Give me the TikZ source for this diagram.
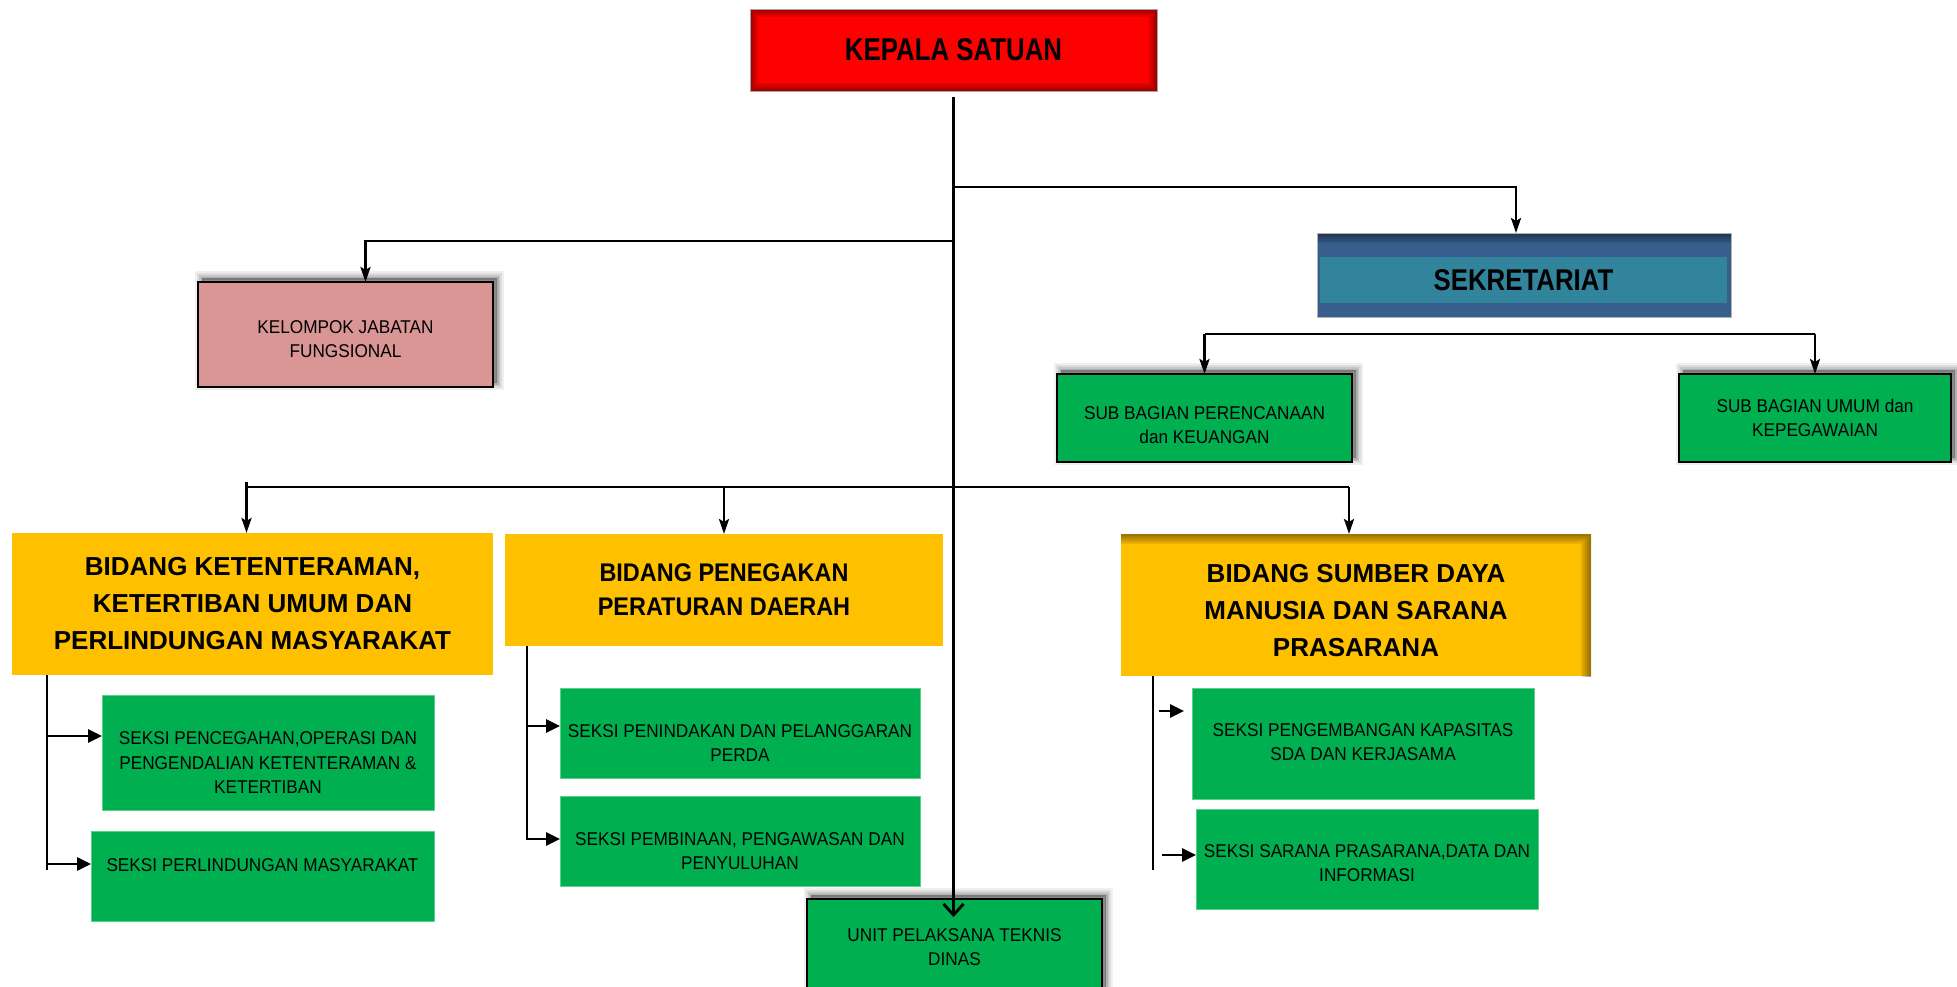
\documentclass[tikz,border=0pt]{standalone}
\usepackage{fontspec}
\setmainfont{Liberation Sans}
\newfontfamily\smallf[FakeStretch=0.93]{Liberation Sans}
\newfontfamily\kepf[FakeStretch=0.82]{Liberation Sans}
\newfontfamily\sekf[FakeStretch=0.86]{Liberation Sans}
\newfontfamily\bbf[FakeStretch=0.92]{Liberation Sans}
\usetikzlibrary{arrows.meta,shadows}
\definecolor{grn}{HTML}{00B050}
\definecolor{grnb}{HTML}{5AD08A}
\definecolor{yel}{HTML}{FFC000}
\definecolor{pinkbox}{HTML}{D99694}
\definecolor{kred}{HTML}{FF0000}
\definecolor{sekblue}{HTML}{385E8E}
\definecolor{sekteal}{HTML}{31849B}
\tikzset{
  conn/.style={line width=2.8pt, draw=black},
  darr/.style={conn, -{Stealth[length=15pt,width=10pt,inset=3pt]}},
  sarr/.style={conn, -{Triangle[length=14pt,width=13pt]}},
  uarr/.style={conn, -{Straight Barb[length=11pt,width=20pt]}},
  box/.style={rectangle, inner sep=0pt, outer sep=0pt, align=center},
  stext/.style={align=center, inner sep=0pt, font=\smallf\fontsize{18.5}{24.5}\selectfont},
  btext/.style={align=center, inner sep=0pt, font=\bfseries\fontsize{26}{37}\selectfont},
  shadowed/.style={
    general shadow={shadow xshift=4pt, shadow yshift=4pt, fill=black, fill opacity=0.3, draw=none},
    general shadow={shadow xshift=4pt, shadow yshift=4pt, fill=none, draw=black, draw opacity=0.1, line width=3pt},
    general shadow={shadow xshift=4pt, shadow yshift=4pt, fill=none, draw=black, draw opacity=0.1, line width=6pt},
    general shadow={shadow xshift=4pt, shadow yshift=4pt, fill=none, draw=black, draw opacity=0.08, line width=10pt},
    general shadow={shadow xshift=4pt, shadow yshift=4pt, fill=none, draw=black, draw opacity=0.06, line width=14pt}},
  seksi/.style={box, stext, fill=grn, draw=grnb, line width=0.8pt},
  subbox/.style={box, stext, fill=grn, draw=black, line width=2pt, shadowed},
  ybox/.style={box, btext, fill=yel},
  glow/.style={path picture={\foreach \w in {4,8,12,16}{\draw[draw=black, draw opacity=#1, line width=\w pt] (path picture bounding box.north west) rectangle (path picture bounding box.south east);}}},
  topglow/.style={path picture={\foreach \w in {4,8,12,16,20}{\draw[draw=black, draw opacity=#1, line width=\w pt] ([xshift=-30pt]path picture bounding box.north west) -- ([xshift=30pt]path picture bounding box.north east);}}},
  edgeglow/.style={path picture={\foreach \w in {4,8,12,16,20}{\draw[draw=black, draw opacity=#1, line width=\w pt] ([xshift=-30pt]path picture bounding box.north west) -- (path picture bounding box.north east) -- ([yshift=-30pt]path picture bounding box.south east);}}},
}
\begin{document}
\begin{tikzpicture}[x=1pt,y=-1pt]
\useasboundingbox (0,0) rectangle (1957,986);
\fill[white] (0,0) rectangle (1957,986);

% top
\node[box, fill=kred, draw=gray!70, line width=0.8pt, glow=0.1, minimum width=407pt, minimum height=82pt, font=\kepf\bfseries\fontsize{31.5}{36}\selectfont] (kepala) at (953.5,50) {KEPALA SATUAN};

\node[box, fill=sekblue, topglow=0.1, draw=gray!60, line width=0.6pt, minimum width=414pt, minimum height=84pt] (sek) at (1524,275) {};
\node[box, fill=sekteal, minimum width=407pt, minimum height=46pt, font=\sekf\bfseries\fontsize{30}{34}\selectfont] (sekband) at (1523.5,280) {SEKRETARIAT};

\node[box, fill=pinkbox, draw=black, line width=2pt, shadowed, minimum width=295pt, minimum height=105pt] (kjf) at (345.5,334.5) {};
\node[stext] (kjft) at (345.5,339) {KELOMPOK JABATAN\\FUNGSIONAL};

\node[subbox, minimum width=295pt, minimum height=88pt] (sbp) at (1204.5,418) {};
\node[stext] (sbpt) at (1204.5,425) {SUB BAGIAN PERENCANAAN\\dan KEUANGAN};
\node[subbox, minimum width=272pt, minimum height=88pt] (sbu) at (1815,418) {SUB BAGIAN UMUM dan\\KEPEGAWAIAN};

% bidang
\node[ybox, minimum width=481pt, minimum height=142pt] (b1) at (252.5,604) {BIDANG KETENTERAMAN,\\KETERTIBAN UMUM DAN\\PERLINDUNGAN MASYARAKAT};
\node[ybox, minimum width=438pt, minimum height=112pt, font=\bbf\bfseries\fontsize{25.5}{34}\selectfont] (b2) at (724,590) {BIDANG PENEGAKAN\\PERATURAN DAERAH};
\node[box, fill=yel, edgeglow=0.09, minimum width=470pt, minimum height=142pt] (b3) at (1356,605) {};
\node[btext] (b3t) at (1356,611) {BIDANG SUMBER DAYA\\MANUSIA DAN SARANA\\PRASARANA};

% seksi
\node[seksi, minimum width=332pt, minimum height=115pt] (s11) at (268,752.5) {};
\node[stext] (s11t) at (268,763) {SEKSI PENCEGAHAN,OPERASI DAN\\PENGENDALIAN KETENTERAMAN \&\\KETERTIBAN};
\node[seksi, minimum width=343pt, minimum height=90pt] (s12) at (262.5,876) {};
\node[stext] (s12t) at (262.5,865) {SEKSI PERLINDUNGAN MASYARAKAT};

\node[seksi, minimum width=360pt, minimum height=90pt] (s21) at (740,733) {};
\node[stext] (s21t) at (740,743) {SEKSI PENINDAKAN DAN PELANGGARAN\\PERDA};
\node[seksi, minimum width=360pt, minimum height=90pt] (s22) at (740,841) {};
\node[stext] (s22t) at (740,851) {SEKSI PEMBINAAN, PENGAWASAN DAN\\PENYULUHAN};

\node[seksi, minimum width=342pt, minimum height=111pt] (s31) at (1363,743.5) {};
\node[stext] (s31t) at (1363,742) {SEKSI PENGEMBANGAN KAPASITAS\\SDA DAN KERJASAMA};
\node[seksi, minimum width=342pt, minimum height=100pt] (s32) at (1367,859) {};
\node[stext] (s32t) at (1367,863) {SEKSI SARANA PRASARANA,DATA DAN\\INFORMASI};

\node[subbox, minimum width=295pt, minimum height=96pt] (unit) at (954.5,947) {UNIT PELAKSANA TEKNIS\\DINAS};

% connectors
\coordinate (jS) at (kepala.south |- 0,187);
\coordinate (jK) at (kepala.south |- 0,241);
\draw[uarr, shorten <=6pt] (kepala.south) -- ([yshift=-18pt]kepala.south |- unit.north);
\draw[darr] (jS) -| ([xshift=-8pt]sek.north);
\draw[darr] (jK) -| ([xshift=20pt]kjf.north);

\coordinate (sbar) at (1500,334);
\draw[conn] (sbar -| sbp.north) -- (sbar -| sbu.north);
\draw[darr] (sbar -| sbp.north) -- (sbp.north);
\draw[darr] (sbar -| sbu.north) -- (sbu.north);

\coordinate (lbar) at (700,487);
\coordinate (a1) at ([xshift=-6pt]b1.north);
\coordinate (a2) at (b2.north);
\coordinate (a3) at ([xshift=-7pt]b3.north);
\draw[conn] ([yshift=5pt]a1 |- lbar) -- (a1 |- lbar) -- (a3 |- lbar);
\draw[darr] (a1 |- lbar) -- (a1);
\draw[darr] (a2 |- lbar) -- (a2);
\draw[darr] (a3 |- lbar) -- (a3);

\coordinate (v1e) at (47,870);
\draw[conn] (v1e |- b1.south) -- (v1e);
\coordinate (h11) at (47,736);
\coordinate (h12) at (47,864);
\draw[sarr] (h11) -- (h11 -| s11.west);
\draw[sarr] (h12) -- (h12 -| s12.west);

\coordinate (v2e) at (527,840);
\draw[conn] (v2e |- b2.south) -- (v2e);
\coordinate (h21) at (527,726);
\coordinate (h22) at (527,839);
\draw[sarr] (h21) -- (h21 -| s21.west);
\draw[sarr] (h22) -- (h22 -| s22.west);

\coordinate (v3e) at (1153,870);
\draw[conn] (v3e |- b3.south) -- (v3e);
\coordinate (h31) at (1159,711);
\coordinate (h32) at (1162,855);
\draw[sarr, shorten >=8pt] (h31) -- (h31 -| s31.west);
\draw[sarr] (h32) -- (h32 -| s32.west);
\end{tikzpicture}
\end{document}
